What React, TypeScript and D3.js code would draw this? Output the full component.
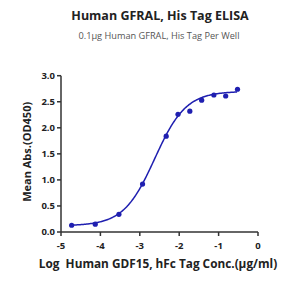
import React from "react";
import * as d3 from "d3";

const logConc = [-4.73, -4.13, -3.53, -2.93, -2.33, -2.03, -1.73, -1.43, -1.12, -0.82, -0.52];
const meanAbs = [0.13, 0.15, 0.34, 0.92, 1.84, 2.26, 2.32, 2.53, 2.63, 2.61, 2.74];
const xTicks = [-5, -4, -3, -2, -1, 0];
const yTicks = [0, 0.5, 1.0, 1.5, 2.0, 2.5, 3.0];
// 4PL fit parameters
const fitBottom = 0.12;
const fitTop = 2.7;
const fitLogEC50 = -2.62;
const fitHill = 1.1;

export default function App() {
  const width = 308, height = 290;
  const x = d3.scaleLinear().domain([-5, 0]).range([61, 258]);
  const y = d3.scaleLinear().domain([0, 3]).range([232, 75.7]);
  const f = (lx: number) => fitBottom + (fitTop - fitBottom) / (1 + Math.pow(10, (fitLogEC50 - lx) * fitHill));
  const xs = d3.range(logConc[0], logConc[logConc.length - 1] + 0.001, 0.02);
  const line = d3.line<number>().x((d) => x(d)).y((d) => y(f(d)));
  const blue = "#1f1fb0";
  const axisColor = "#333";
  const font = "'Open Sans', sans-serif";
  return (
    <svg width={width} height={height} style={{ position: "absolute", left: 0, top: 0 }} fontFamily={font}>
      <text x={160} y={20} textAnchor="middle" fontSize={12.5} fontWeight="bold" fill="#222">Human GFRAL, His Tag ELISA</text>
      <text x={159} y={39} textAnchor="middle" fontSize={9.2} fill="#555">0.1μg Human GFRAL, His Tag Per Well</text>
      {/* axes */}
      <line x1={x(-5)} x2={x(-5)} y1={y(3)} y2={y(0)} stroke={axisColor} strokeWidth={1.5} />
      <line x1={x(-5)} x2={x(0)} y1={y(0)} y2={y(0)} stroke={axisColor} strokeWidth={1.5} />
      {yTicks.map((t) => (
        <g key={"y" + t}>
          <line x1={x(-5) - 4} x2={x(-5)} y1={y(t)} y2={y(t)} stroke={axisColor} strokeWidth={1.5} />
          <text x={x(-5) - 6} y={y(t)} dy="0.35em" textAnchor="end" fontSize={9.5} fontWeight="bold" fill="#222">{t.toFixed(1)}</text>
        </g>
      ))}
      {xTicks.map((t) => (
        <g key={"x" + t}>
          <line x1={x(t)} x2={x(t)} y1={y(0)} y2={y(0) + 4} stroke={axisColor} strokeWidth={1.5} />
          <text x={x(t)} y={y(0) + 17} textAnchor="middle" fontSize={9.5} fontWeight="bold" fill="#222">{t}</text>
        </g>
      ))}
      <text transform={`translate(31,${y(1.5) - 2}) rotate(-90)`} textAnchor="middle" fontSize={11} fontWeight="bold" fill="#222">Mean Abs.(OD450)</text>
      <text x={158} y={268} textAnchor="middle" fontSize={11.8} fontWeight="bold" fill="#222" style={{ whiteSpace: "pre" }}>{"Log  Human GDF15, hFc Tag Conc.(μg/ml)"}</text>
      <path d={line(xs) || ""} fill="none" stroke={blue} strokeWidth={1.5} />
      {logConc.map((lx, i) => (
        <circle key={i} cx={x(lx)} cy={y(meanAbs[i])} r={2.6} fill={blue} />
      ))}
    </svg>
  );
}
